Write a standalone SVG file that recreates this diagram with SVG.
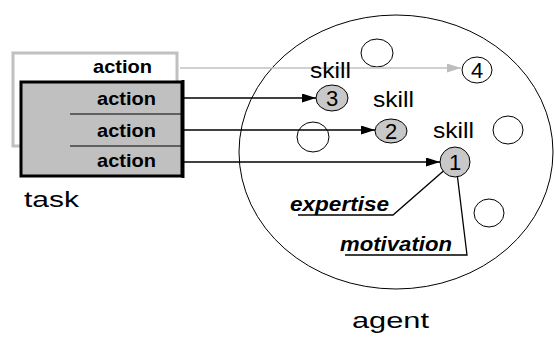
<svg xmlns="http://www.w3.org/2000/svg" width="555" height="338" viewBox="0 0 555 338">
  <style>
    .act { font-family: "Liberation Sans", Arial, sans-serif; font-weight: bold; font-size: 19px; fill: #000; }
    .lbl { font-family: "Liberation Sans", Arial, sans-serif; font-size: 22px; fill: #000; }
    .ital { font-family: "Liberation Sans", Arial, sans-serif; font-weight: bold; font-style: italic; font-size: 20px; fill: #000; }
    .num { font-family: "Liberation Sans", Arial, sans-serif; font-size: 22px; fill: #000; text-anchor: middle; }
    .hole { fill: #fff; stroke: #000; stroke-width: 1; }
    .skill { fill: #c8c8c8; stroke: #000; stroke-width: 1; }
    .wire { stroke: #000; stroke-width: 1.3; fill: none; }
  </style>
  <defs>
    <marker id="arrowBlack" markerWidth="14" markerHeight="9" refX="14" refY="4.5" orient="auto" markerUnits="userSpaceOnUse">
      <path d="M0,0 L14,4.5 L0,9 Z" fill="#000"/>
    </marker>
    <marker id="arrowGray" markerWidth="14" markerHeight="9" refX="14" refY="4.5" orient="auto" markerUnits="userSpaceOnUse">
      <path d="M0,0 L14,4.5 L0,9 Z" fill="#bdbdbd"/>
    </marker>
  </defs>
  <rect width="555" height="338" fill="#fff"/>

  <!-- agent boundary -->
  <g id="agent">
    <ellipse cx="396" cy="152" rx="157" ry="137" fill="none" stroke="#000" stroke-width="1"/>
    <text class="lbl" x="352" y="328" font-size="28" textLength="77" lengthAdjust="spacingAndGlyphs">agent</text>
    <!-- unused skill slots -->
    <ellipse class="hole" cx="377" cy="53" rx="16" ry="14"/>
    <ellipse class="hole" cx="313" cy="137" rx="16" ry="15"/>
    <ellipse class="hole" cx="508" cy="130" rx="15" ry="14"/>
    <ellipse class="hole" cx="489" cy="213" rx="15" ry="14"/>
  </g>

  <!-- hidden action (background card) -->
  <g id="task-back">
    <rect x="13" y="53" width="164" height="93" fill="#fff" stroke="#c0c0c0" stroke-width="3"/>
    <text class="act" x="93" y="73" textLength="59" lengthAdjust="spacingAndGlyphs">action</text>
  </g>

  <!-- task card -->
  <g id="task">
    <rect x="21" y="82" width="161" height="94" fill="#c0c0c0" stroke="#000" stroke-width="3"/>
    <line x1="183" y1="80" x2="183" y2="178" stroke="#000" stroke-width="3"/>
    <line x1="70" y1="114" x2="181" y2="114" stroke="#000" stroke-width="1"/>
    <line x1="70" y1="146" x2="181" y2="146" stroke="#000" stroke-width="1"/>
    <text class="act" x="97" y="105" textLength="59" lengthAdjust="spacingAndGlyphs">action</text>
    <text class="act" x="97" y="137" textLength="59" lengthAdjust="spacingAndGlyphs">action</text>
    <text class="act" x="97" y="167" textLength="59" lengthAdjust="spacingAndGlyphs">action</text>
    <text class="lbl" x="24" y="207" font-size="26" textLength="55" lengthAdjust="spacingAndGlyphs">task</text>
  </g>

  <!-- connectors -->
  <g id="connectors">
    <line x1="180" y1="68" x2="461" y2="68" stroke="#c0c0c0" stroke-width="1.3" marker-end="url(#arrowGray)"/>
    <line class="wire" x1="184" y1="98" x2="316" y2="98" marker-end="url(#arrowBlack)"/>
    <line class="wire" x1="184" y1="130" x2="375" y2="130" marker-end="url(#arrowBlack)"/>
    <line class="wire" x1="184" y1="162" x2="440" y2="162" marker-end="url(#arrowBlack)"/>
    <polyline class="wire" stroke-width="1" points="448,167 393,215 298,215"/>
    <polyline class="wire" stroke-width="1" points="457,173 467,255 345,255"/>
  </g>

  <!-- skills -->
  <g id="skill4">
    <ellipse class="hole" cx="477" cy="70" rx="15" ry="13"/>
    <text class="num" x="477" y="78">4</text>
  </g>
  <g id="skill3">
    <text class="lbl" x="310" y="78" textLength="41" lengthAdjust="spacingAndGlyphs">skill</text>
    <ellipse class="skill" cx="332" cy="98" rx="16" ry="13"/>
    <text class="num" x="332" y="106">3</text>
  </g>
  <g id="skill2">
    <text class="lbl" x="373" y="107" textLength="41" lengthAdjust="spacingAndGlyphs">skill</text>
    <ellipse class="skill" cx="391" cy="131" rx="16" ry="12"/>
    <text class="num" x="391" y="139">2</text>
  </g>
  <g id="skill1">
    <text class="lbl" x="433" y="138" textLength="41" lengthAdjust="spacingAndGlyphs">skill</text>
    <ellipse class="skill" cx="455" cy="162" rx="15" ry="15"/>
    <text class="num" x="455" y="170">1</text>
  </g>

  <!-- skill attributes -->
  <g id="expertise">
    <text class="ital" x="290" y="211" textLength="99" lengthAdjust="spacingAndGlyphs">expertise</text>
  </g>
  <g id="motivation">
    <text class="ital" x="340" y="251" textLength="112" lengthAdjust="spacingAndGlyphs">motivation</text>
  </g>
</svg>
